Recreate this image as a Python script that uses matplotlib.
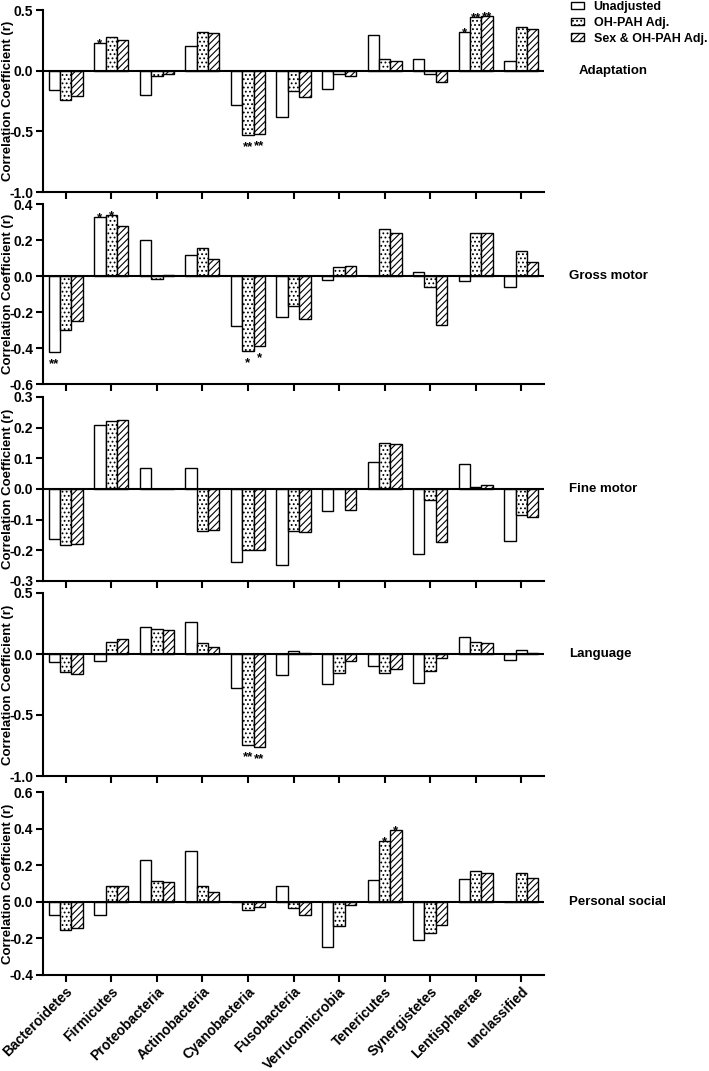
import numpy as np
import matplotlib.pyplot as plt
from matplotlib.patches import Patch
from matplotlib.ticker import FormatStrFormatter

plt.rcParams["font.family"] = ["Liberation Sans", "DejaVu Sans"]
plt.rcParams["font.weight"] = "bold"
plt.rcParams["axes.unicode_minus"] = False
plt.rcParams["hatch.linewidth"] = 0.8

phyla = ["Bacteroidetes", "Firmicutes", "Proteobacteria", "Actinobacteria",
         "Cyanobacteria", "Fusobacteria", "Verrucomicrobia", "Tenericutes",
         "Synergistetes", "Lentisphaerae", "unclassified"]
series_names = ["Unadjusted", "OH-PAH Adj.", "Sex & OH-PAH Adj."]

# Adaptation
adapt_unadj = [-0.16, 0.23, -0.20, 0.20, -0.28, -0.385, -0.15, 0.295, 0.10, 0.32, 0.083]
adapt_ohpah = [-0.24, 0.28, -0.04, 0.32, -0.53, -0.165, -0.03, 0.094, -0.03, 0.446, 0.36]
adapt_sex = [-0.21, 0.25, -0.03, 0.31, -0.52, -0.215, -0.045, 0.083, -0.096, 0.452, 0.34]

# Gross motor
gross_unadj = [-0.42, 0.326, 0.20, 0.117, -0.28, -0.23, -0.022, 0.0, 0.022, -0.026, -0.06]
gross_ohpah = [-0.30, 0.34, -0.015, 0.154, -0.415, -0.165, 0.048, 0.26, -0.063, 0.237, 0.14]
gross_sex = [-0.25, 0.28, 0.007, 0.094, -0.387, -0.24, 0.056, 0.237, -0.274, 0.237, 0.08]

# Fine motor
fine_unadj = [-0.163, 0.208, 0.069, 0.069, -0.239, -0.247, -0.073, 0.088, -0.212, 0.083, -0.171]
fine_ohpah = [-0.182, 0.221, 0.0, -0.136, -0.198, -0.136, 0.0, 0.150, -0.037, 0.008, -0.086]
fine_sex = [-0.18, 0.225, 0.0, -0.134, -0.20, -0.14, -0.068, 0.147, -0.173, 0.014, -0.09]

# Language
lang_unadj = [-0.068, -0.055, 0.224, 0.265, -0.28, -0.175, -0.246, -0.098, -0.24, 0.142, -0.05]
lang_ohpah = [-0.15, 0.10, 0.207, 0.088, -0.746, 0.027, -0.158, -0.158, -0.14, 0.10, 0.03]
lang_sex = [-0.164, 0.12, 0.197, 0.06, -0.765, 0.005, -0.055, -0.125, -0.03, 0.093, 0.01]

# Personal social
pers_unadj = [-0.073, -0.071, 0.23, 0.279, 0.0, 0.087, -0.248, 0.12, -0.208, 0.124, -0.003]
pers_ohpah = [-0.153, 0.084, 0.116, 0.089, -0.044, -0.035, -0.131, 0.33, -0.168, 0.166, 0.157]
pers_sex = [-0.144, 0.084, 0.108, 0.055, -0.031, -0.071, -0.015, 0.393, -0.126, 0.157, 0.13]

# significance marks: (phylum index, series index, mark)
adapt_stars = [(1, 0, "*"), (4, 1, "**"), (4, 2, "**"), (9, 0, "*"), (9, 1, "**"), (9, 2, "**")]
gross_stars = [(0, 0, "**"), (1, 0, "*"), (1, 1, "*"), (4, 1, "*"), (4, 2, "*")]
fine_stars = []
lang_stars = [(4, 1, "**"), (4, 2, "**")]
pers_stars = [(7, 1, "*"), (7, 2, "*")]

panels = [
    ("Adaptation", [adapt_unadj, adapt_ohpah, adapt_sex], adapt_stars, (-1.0, 0.5), [-1.0, -0.5, 0.0, 0.5]),
    ("Gross motor", [gross_unadj, gross_ohpah, gross_sex], gross_stars, (-0.6, 0.4), [-0.6, -0.4, -0.2, 0.0, 0.2, 0.4]),
    ("Fine motor", [fine_unadj, fine_ohpah, fine_sex], fine_stars, (-0.3, 0.3), [-0.3, -0.2, -0.1, 0.0, 0.1, 0.2, 0.3]),
    ("Language", [lang_unadj, lang_ohpah, lang_sex], lang_stars, (-1.0, 0.5), [-1.0, -0.5, 0.0, 0.5]),
    ("Personal social", [pers_unadj, pers_ohpah, pers_sex], pers_stars, (-0.4, 0.6), [-0.4, -0.2, 0.0, 0.2, 0.4, 0.6]),
]

# pixel rows (top, bottom) of each panel in a 709x1071 figure
rows_px = [(10, 192), (204, 384), (397, 581), (593, 776), (792, 975)]
label_x = [1.07, 1.05, 1.05, 1.05, 1.05]

hatches = [None, "....", "/////"]
W, H = 709, 1071
fig = plt.figure(figsize=(W / 100, H / 100), dpi=100)

x = np.arange(len(phyla))
width = 0.25

for i, (name, series, stars, ylim, yticks) in enumerate(panels):
    top, bot = rows_px[i]
    ax = fig.add_axes([43 / W, 1 - bot / H, (544 - 43) / W, (bot - top) / H])
    for j, vals in enumerate(series):
        ax.bar(x + (j - 1) * width, vals, width, color="white",
               edgecolor="black", linewidth=1.0, hatch=hatches[j], zorder=2)
    ax.axhline(0, color="black", lw=1.5, zorder=3)

    for (k, j, mark) in stars:
        v = series[j][k]
        off = -3 if v > 0 else -11
        ax.annotate(mark, xy=(x[k] + (j - 1) * width, v), xytext=(0, off),
                    textcoords="offset points", ha="center", va="baseline",
                    fontsize=9.5, fontweight="bold")

    ax.set_xlim(-0.5, len(phyla) - 0.5)
    ax.set_ylim(*ylim)
    ax.set_yticks(yticks)
    ax.yaxis.set_major_formatter(FormatStrFormatter("%.1f"))
    ax.set_xticks(x)
    if i == len(panels) - 1:
        ax.set_xticklabels(phyla, rotation=45, ha="right", rotation_mode="anchor",
                           fontsize=10, fontweight="bold")
    else:
        ax.set_xticklabels([])
    for s in ["top", "right"]:
        ax.spines[s].set_visible(False)
    for s in ["left", "bottom"]:
        ax.spines[s].set_linewidth(1.5)
    ax.tick_params(direction="out", length=5, width=1.5, labelsize=10, pad=2)
    ax.set_ylabel("Correlation Coefficient (r)", fontsize=9.5, fontweight="bold")
    ax.yaxis.set_label_coords(-0.058, 0.5)

    ax.annotate(name, xy=(label_x[i], 0), xycoords=("axes fraction", "data"),
                ha="left", va="center", fontsize=9.5, fontweight="bold",
                annotation_clip=False)

handles = [Patch(facecolor="white", edgecolor="black", hatch=h, linewidth=1.0)
           for h in hatches]
fig.legend(handles, series_names, loc="upper left", bbox_to_anchor=(571 / W, 0.999),
           frameon=False, borderpad=0, borderaxespad=0, handlelength=1.0,
           handleheight=0.55, handletextpad=0.8, labelspacing=0.3,
           prop={"size": 9, "weight": "bold"})

fig.savefig("out.png", dpi=100)
